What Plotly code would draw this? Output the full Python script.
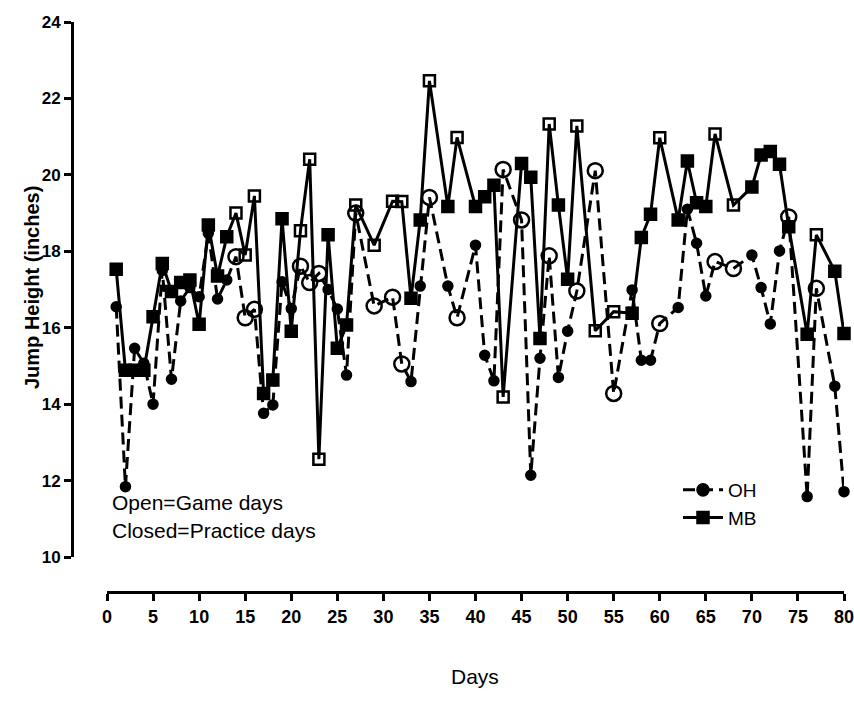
import plotly.graph_objects as go

days = [1, 2, 3, 4, 5, 6, 7, 8, 9, 10, 11, 12, 13, 14, 15, 16, 17, 18, 19, 20,
        21, 22, 23, 24, 25, 26, 27, 29, 31, 32, 33, 34, 35, 37, 38, 40, 41, 42, 43,
        45, 46, 47, 48, 49, 50, 51, 53, 55, 57, 58, 59, 60, 62, 63, 64, 65, 66, 68,
        70, 71, 72, 73, 74, 76, 77, 79, 80]

mb = [17.53, 14.89, 14.89, 14.89, 16.29, 17.68, 16.95, 17.18, 17.25, 16.09,
      18.69, 17.35, 18.38, 19.00, 17.90, 19.45, 14.28, 14.63, 18.85, 15.91,
      18.54, 20.41, 12.56, 18.43, 15.46, 16.07, 19.21, 18.16, 19.31, 19.30,
      16.77, 18.82, 22.46, 19.17, 20.98, 19.17, 19.43, 19.73, 14.19,
      20.30, 19.94, 15.72, 21.33, 19.21, 17.27, 21.28, 15.92, 16.42, 16.38,
      18.36, 18.97, 20.97, 18.82, 20.36, 19.27, 19.17, 21.07, 19.21,
      19.68, 20.52, 20.61, 20.28, 18.64, 15.83, 18.43, 17.48, 15.85]

oh = [16.55, 11.84, 15.46, 15.07, 14.00, 17.50, 14.65, 16.70, 17.05, 16.81,
      18.47, 16.75, 17.25, 17.86, 16.26, 16.48, 13.76, 13.98, 17.20, 16.50,
      17.61, 17.18, 17.42, 17.00, 16.49, 14.76, 19.00, 16.57, 16.80, 15.05,
      14.59, 17.09, 19.41, 17.09, 16.26, 18.16, 15.28, 14.61, 20.14,
      18.82, 12.14, 15.20, 17.88, 14.70, 15.91, 16.96, 20.11, 14.28, 16.99,
      15.15, 15.15, 16.11, 16.53, 19.10, 18.21, 16.83, 17.73, 17.55,
      17.90, 17.05, 16.10, 18.01, 18.90, 11.58, 17.03, 14.47, 11.71]

mb_game_days = [14, 15, 16, 21, 22, 23, 27, 29, 31, 32, 35, 38, 43, 48, 51, 53,
                55, 60, 66, 68, 77]
oh_game_days = [14, 15, 16, 21, 22, 23, 27, 29, 31, 32, 35, 38, 43, 45, 48, 51,
                53, 55, 60, 66, 68, 74, 77]

x_ticks = list(range(0, 81, 5))
y_ticks = list(range(10, 25, 2))

W, H = 854, 702
FONT = "Liberation Sans, Arial, sans-serif"


def px_x(p):
    return p / W


def px_y(p):
    return 1 - p / H


oh_sym = ["circle-open" if d in oh_game_days else "circle" for d in days]
oh_size = [15 if d in oh_game_days else 9 for d in days]
mb_sym = ["square-open" if d in mb_game_days else "square" for d in days]

fig = go.Figure()
fig.add_trace(go.Scatter(
    x=days, y=oh, name="OH", mode="lines+markers",
    line=dict(color="black", width=3, dash="12px,6px"),
    marker=dict(symbol=oh_sym, size=oh_size, color="black", opacity=1,
                line=dict(color="black", width=2.5)),
    cliponaxis=False,
))
fig.add_trace(go.Scatter(
    x=days, y=mb, name="MB", mode="lines+markers",
    line=dict(color="black", width=3),
    marker=dict(symbol=mb_sym, size=11, color="black", opacity=1,
                line=dict(color="black", width=2.5)),
    cliponaxis=False,
))

fig.update_layout(
    width=W, height=H,
    margin=dict(l=0, r=0, t=0, b=0),
    paper_bgcolor="white", plot_bgcolor="white",
    font=dict(family=FONT, color="black"),
    showlegend=True,
    legend=dict(x=px_x(678), y=px_y(471), xanchor="left", yanchor="top",
                font=dict(size=19, family=FONT), bgcolor="rgba(0,0,0,0)",
                itemwidth=40, tracegroupgap=0),
    xaxis=dict(
        domain=[px_x(107), px_x(844)], range=[0, 80],
        anchor="free", position=px_y(592),
        showline=True, linewidth=3, linecolor="black",
        ticks="outside", ticklen=7, tickwidth=3, tickcolor="black",
        tickvals=x_ticks, ticktext=[str(t) for t in x_ticks],
        tickfont=dict(size=18, family=FONT, weight="bold"),
        ticklabeloverflow="allow",
        showgrid=False, zeroline=False, automargin=False,
    ),
    yaxis=dict(
        domain=[px_y(557), px_y(22)], range=[10, 24],
        anchor="free", position=px_x(72),
        showline=True, linewidth=3, linecolor="black",
        ticks="outside", ticklen=7, tickwidth=3, tickcolor="black",
        tickvals=y_ticks, ticktext=[str(t) for t in y_ticks],
        tickfont=dict(size=17, family=FONT, weight="bold"),
        ticklabeloverflow="allow",
        showgrid=False, zeroline=False, automargin=False,
    ),
    annotations=[
        dict(text="Jump Height (inches)", textangle=-90, x=px_x(19), y=px_y(288),
             xref="paper", yref="paper", showarrow=False,
             font=dict(size=20, family=FONT, weight="bold")),
        dict(text="Days", x=px_x(475), y=px_y(690), xref="paper", yref="paper",
             showarrow=False, font=dict(size=21, family=FONT)),
        dict(text="Open=Game days", x=px_x(110), y=px_y(516), xref="paper",
             yref="paper", xanchor="left", showarrow=False,
             font=dict(size=21, family=FONT)),
        dict(text="Closed=Practice days", x=px_x(110), y=px_y(544), xref="paper",
             yref="paper", xanchor="left", showarrow=False,
             font=dict(size=21, family=FONT)),
    ],
)

fig.write_html("out.html")
